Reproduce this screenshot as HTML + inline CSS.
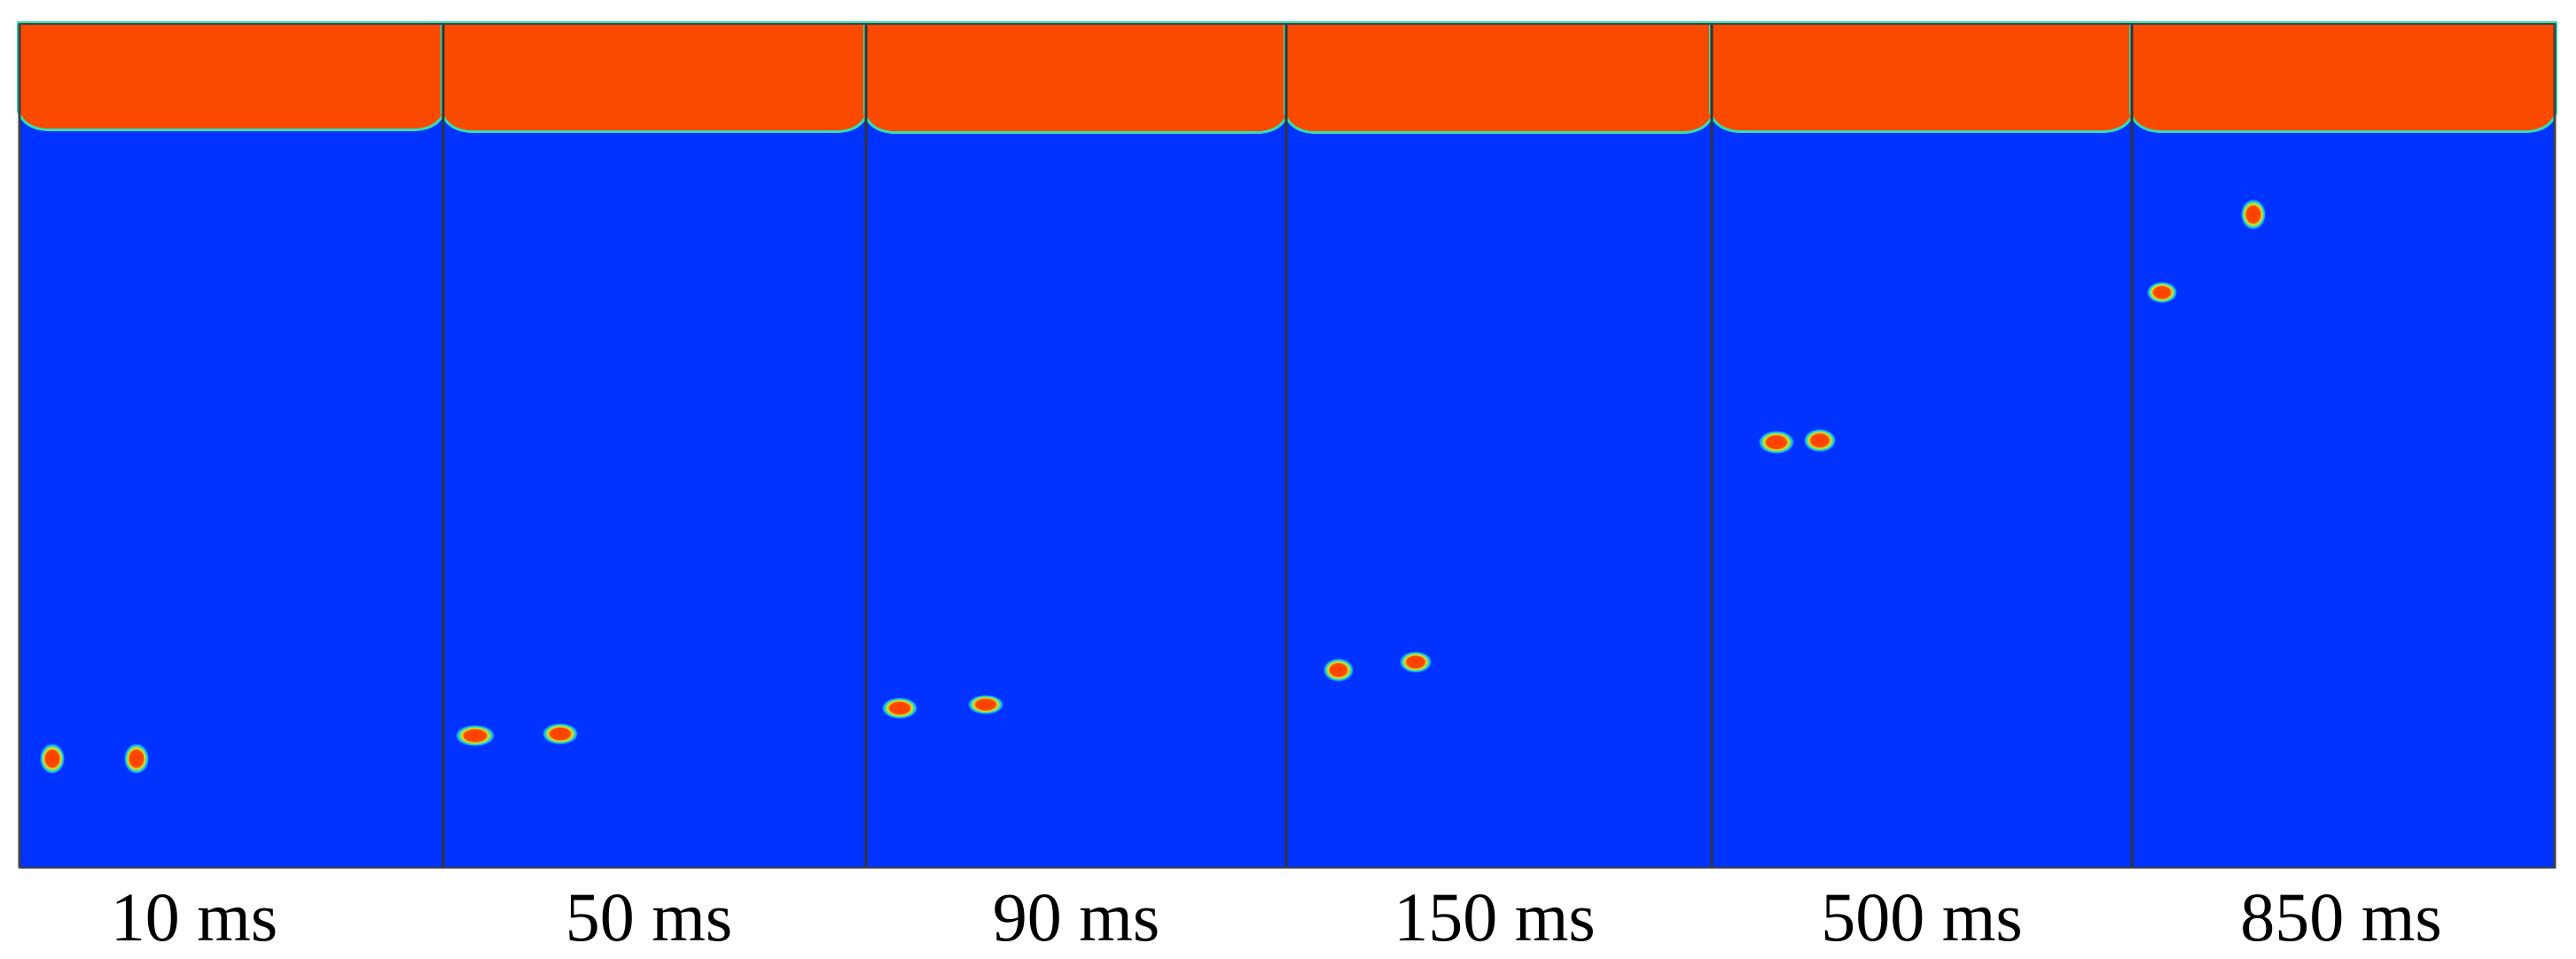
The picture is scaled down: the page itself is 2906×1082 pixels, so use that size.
<!DOCTYPE html>
<html><head><meta charset="utf-8"><style>
html,body{margin:0;padding:0;background:#fff;}
svg{display:block;}
</style></head><body>
<svg id="fig" width="2906" height="1082" viewBox="0 0 2906 1082" xmlns="http://www.w3.org/2000/svg">
<defs>
<radialGradient id="bub">
<stop offset="0" stop-color="#ff3c00"/>
<stop offset="0.55" stop-color="#fa4a00"/>
<stop offset="0.68" stop-color="#e8e020"/>
<stop offset="0.8" stop-color="#40e0a0"/>
<stop offset="0.92" stop-color="#10a0ff"/>
<stop offset="1" stop-color="#0033ff"/>
</radialGradient>
</defs>
<g id="panels"></g>
</svg>
<script>
const labels = ["10 ms","50 ms","90 ms","150 ms","500 ms","850 ms"];
const labelX = [219, 732, 1214, 1686, 2168, 2641];
const panelEdges = [22, 500, 977, 1451, 1931, 2405, 2882];
const bubbleX = [[59,154],[536,632],[1015,1112],[1510,1597],[2004,2053],[2439,2542]];
const bubbleY = [[856,856],[830,828],[799,795],[756,747],[499,497],[330,242]];
const bubbleRx = [[14,14],[22,20],[20,20],[17,18],[20,18],[17,14]];
const bubbleRy = [[17,17],[12,12],[12,11],[13,12],[13,13],[12,17]];
const interfaceY = [145,147,148,148,147,147];

const NS="http://www.w3.org/2000/svg";
const g=document.getElementById('panels');
const topY=27, bottomY=979;
function mk(t,a){const e=document.createElementNS(NS,t);for(const k in a)e.setAttribute(k,a[k]);return e;}
for(let i=0;i<labels.length;i++){
  const x0=panelEdges[i], x1=panelEdges[i+1], w=x1-x0;
  const pg=mk('g',{});
  
  
  const water=mk('rect',{x:x0,y:topY,width:w,height:bottomY-topY,fill:'#0033ff'});
  
  
  pg.appendChild(water);
  const iy=interfaceY[i];
  const d=`M${x0},${topY} L${x1},${topY} L${x1},${iy-20} Q${x1-6},${iy-2} ${x1-30},${iy} L${x0+30},${iy} Q${x0+6},${iy-2} ${x0},${iy-20} Z`;
  const halo=mk('path',{d:d,fill:'none',stroke:'#30e0b0','stroke-width':6});
  
  
  pg.appendChild(halo);
  const gas=mk('path',{d:d,fill:'#fa4a00'});
  
  
  pg.appendChild(gas);
  for(let j=0;j<bubbleX[i].length;j++){
    const b=mk('ellipse',{cx:bubbleX[i][j],cy:bubbleY[i][j],rx:bubbleRx[i][j],ry:bubbleRy[i][j],fill:'url(#bub)'});
    
    
    pg.appendChild(b);
  }
  const t=mk('text',{x:labelX[i],y:1061,'text-anchor':'middle','font-family':'Liberation Serif, serif','font-size':78,fill:'#000'});
  t.textContent=labels[i];
  
  
  pg.appendChild(t);
  g.appendChild(pg);
}
for(let i=0;i<panelEdges.length;i++){
  const l=mk('line',{x1:panelEdges[i],y1:topY,x2:panelEdges[i],y2:bottomY,stroke:'#333','stroke-width':3});
  
  
  g.appendChild(l);
}
const fr=mk('rect',{x:22,y:topY,width:2860,height:bottomY-topY,fill:'none',stroke:'#444','stroke-width':2});


g.appendChild(fr);
</script>
</body></html>
